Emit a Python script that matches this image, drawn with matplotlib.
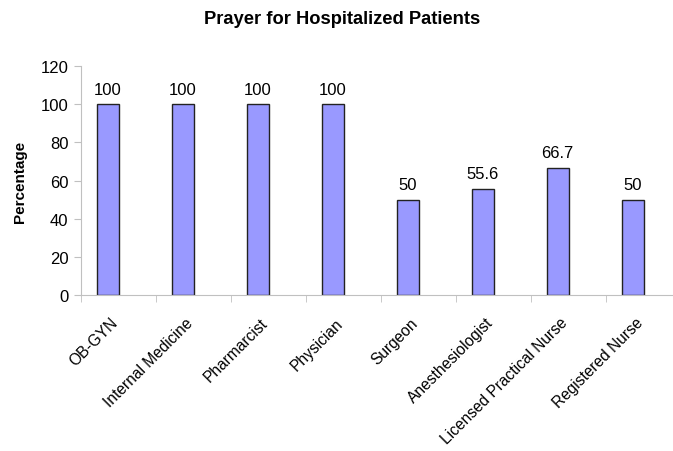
import matplotlib
matplotlib.use("Agg")
import matplotlib.pyplot as plt
import matplotlib.transforms as mtransforms
import numpy as np

plt.rcParams['font.family'] = ['Liberation Sans', 'DejaVu Sans']

categories = ["OB-GYN", "Internal Medicine", "Pharmarcist", "Physician", "Surgeon",
              "Anesthesiologist", "Licensed Practical Nurse", "Registered Nurse"]
values = [100, 100, 100, 100, 50, 55.6, 66.7, 50]
labels = ["100", "100", "100", "100", "50", "55.6", "66.7", "50"]
yticks = [0, 20, 40, 60, 80, 100, 120]

W, H = 673, 452
fig = plt.figure(figsize=(W/100, H/100), dpi=100)
left, right, top, bottom = 81, 681, 67, 296
ax = fig.add_axes([left/W, 1 - bottom/H, (right-left)/W, (bottom-top)/H])

x = np.arange(len(categories))
bw = 0.29
ax.bar(x, values, width=-bw, align='edge', color='#9999FF', edgecolor='#222222', linewidth=1.0)
for xi, v, lab in zip(x, values, labels):
    ax.text(xi - bw/2, v + 4, lab, ha='center', va='bottom', fontsize=12)

ax.set_xlim(-0.5, len(categories) - 0.5)
ax.set_ylim(0, 120)
ax.set_yticks(yticks)
ax.set_yticklabels([str(t) for t in yticks], fontsize=12)
ax.set_xticks(x)
ax.set_xticklabels(categories, rotation=45, ha='right', va='center',
                   rotation_mode='anchor', fontsize=11.2)
ax.tick_params(axis='x', which='major', length=0, pad=18)
shift = mtransforms.ScaledTranslation(-3/100, 0, fig.dpi_scale_trans)
for lbl in ax.get_xticklabels():
    lbl.set_transform(lbl.get_transform() + shift)
ax.set_xticks(np.arange(-0.5, len(categories), 1), minor=True)
ax.tick_params(axis='x', which='minor', length=5, color='#c0c0c0')
ax.tick_params(axis='y', length=5, color='#c0c0c0', pad=4)
for s in ['top', 'right']:
    ax.spines[s].set_visible(False)
for s in ['left', 'bottom']:
    ax.spines[s].set_color('#c0c0c0')
ax.set_ylabel("Percentage", fontsize=11, fontweight='bold', labelpad=10)
fig.text(342/W, 1 - 20/H, "Prayer for Hospitalized Patients", ha='center', va='center',
         fontsize=13.2, fontweight='bold')

fig.savefig("out.png", dpi=100)
